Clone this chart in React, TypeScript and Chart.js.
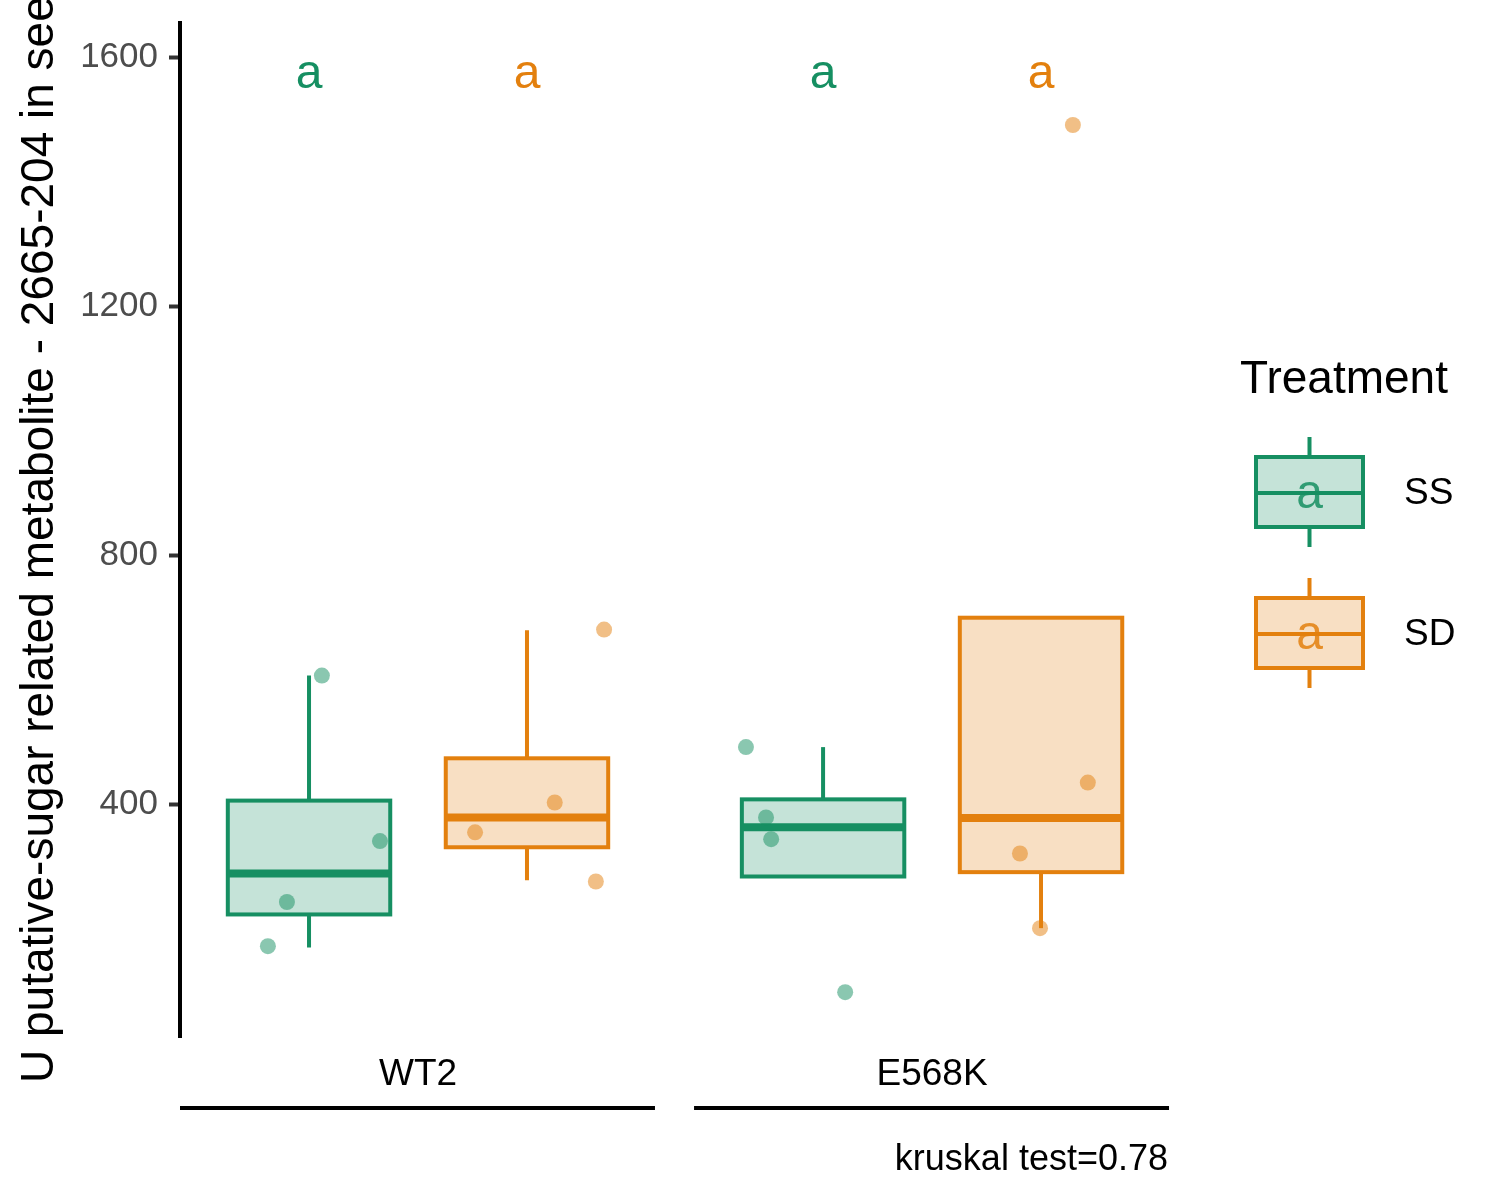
import React, { useEffect, useRef } from 'react';
import { Chart, registerables } from 'chart.js';

Chart.register(...registerables);

const groups = ['WT2', 'E568K'];
const treatments = ['SS', 'SD'];
const lineColors = ['#168F62', '#E3800E'];
const fillColors = ['rgba(22,143,98,0.25)', 'rgba(227,128,14,0.25)'];
const pointColors = ['rgba(22,143,98,0.5)', 'rgba(227,128,14,0.5)'];

// box statistics, one value per group (WT2, E568K)
const ssLow = [170, 284];
const ssQ1 = [223, 284];
const ssMedian = [289, 363];
const ssQ3 = [406, 408];
const ssHigh = [607, 492];

const sdLow = [278, 201];
const sdQ1 = [331, 291];
const sdMedian = [379, 378];
const sdQ3 = [474, 700];
const sdHigh = [680, 700];

// raw points and their horizontal jitter, per group
const ssValues = [[607, 341, 243, 172], [492, 379, 344, 98]];
const ssJitter = [[0.025, 0.138, -0.043, -0.08], [-0.15, -0.111, -0.101, 0.043]];
const sdValues = [[681, 403, 355, 276], [1492, 435, 321, 201]];
const sdJitter = [[0.15, 0.054, -0.101, 0.134], [0.062, 0.091, -0.041, -0.002]];

const letters = [['a', 'a'], ['a', 'a']];
const letterY = 1552;
const yTicks = [400, 800, 1200, 1600];
const pValueText = 'kruskal test=0.78';
const yTitle = 'U putative-sugar related metabolite - 2665-204 in seeds';

const dodge = [-0.212, 0.212];
const boxHalf = 0.158;
const FONT = '"Liberation Sans", Arial, Helvetica, sans-serif';

const stats = [
  { low: ssLow, q1: ssQ1, med: ssMedian, q3: ssQ3, high: ssHigh },
  { low: sdLow, q1: sdQ1, med: sdMedian, q3: sdQ3, high: sdHigh },
];
const values = [ssValues, sdValues];
const jitters = [ssJitter, sdJitter];

const boxPlugin = {
  id: 'boxes',
  beforeDatasetsDraw(chart: any) {
    const { ctx } = chart;
    const x = chart.scales.x;
    const y = chart.scales.y;
    ctx.save();
    treatments.forEach((_, ti) => {
      const s = stats[ti];
      groups.forEach((__, gi) => {
        const c = gi + 1 + dodge[ti];
        const cx = x.getPixelForValue(c);
        const l = x.getPixelForValue(c - boxHalf);
        const r = x.getPixelForValue(c + boxHalf);
        const yLow = y.getPixelForValue(s.low[gi]);
        const yQ1 = y.getPixelForValue(s.q1[gi]);
        const yMed = y.getPixelForValue(s.med[gi]);
        const yQ3 = y.getPixelForValue(s.q3[gi]);
        const yHigh = y.getPixelForValue(s.high[gi]);
        ctx.strokeStyle = lineColors[ti];
        ctx.lineWidth = 4;
        ctx.lineCap = 'butt';
        ctx.beginPath();
        ctx.moveTo(cx, yHigh);
        ctx.lineTo(cx, yQ3);
        ctx.moveTo(cx, yQ1);
        ctx.lineTo(cx, yLow);
        ctx.stroke();
        ctx.fillStyle = fillColors[ti];
        ctx.fillRect(l, yQ3, r - l, yQ1 - yQ3);
        ctx.strokeRect(l, yQ3, r - l, yQ1 - yQ3);
        ctx.lineWidth = 8;
        ctx.beginPath();
        ctx.moveTo(l, yMed);
        ctx.lineTo(r, yMed);
        ctx.stroke();
      });
    });
    ctx.restore();
  },
  afterDraw(chart: any) {
    const { ctx, chartArea } = chart;
    const x = chart.scales.x;
    const y = chart.scales.y;
    ctx.save();

    // significance letters
    ctx.font = `48px ${FONT}`;
    ctx.textAlign = 'center';
    ctx.textBaseline = 'alphabetic';
    treatments.forEach((_, ti) => {
      groups.forEach((__, gi) => {
        ctx.fillStyle = lineColors[ti];
        ctx.fillText(letters[ti][gi], x.getPixelForValue(gi + 1 + dodge[ti]), y.getPixelForValue(letterY));
      });
    });

    // group labels and brackets
    ctx.fillStyle = '#000';
    ctx.font = `37px ${FONT}`;
    ctx.textBaseline = 'middle';
    groups.forEach((g, gi) => {
      ctx.fillText(g, x.getPixelForValue(gi + 1), 1075);
      ctx.strokeStyle = '#000';
      ctx.lineWidth = 4;
      ctx.beginPath();
      ctx.moveTo(x.getPixelForValue(gi + 1 - 0.463), 1108);
      ctx.lineTo(x.getPixelForValue(gi + 1 + 0.461), 1108);
      ctx.stroke();
    });

    ctx.textAlign = 'right';
    ctx.textBaseline = 'alphabetic';
    ctx.font = `36px ${FONT}`;
    ctx.fillText(pValueText, chartArea.right, 1170);

    // y title
    ctx.save();
    ctx.translate(53, 1083);
    ctx.rotate(-Math.PI / 2);
    ctx.textAlign = 'left';
    ctx.font = `46px ${FONT}`;
    ctx.fillText(yTitle, 0, 0);
    ctx.restore();

    // legend
    ctx.textAlign = 'left';
    ctx.font = `46px ${FONT}`;
    ctx.fillText('Treatment', 1240, 393);
    const keyCenters = [492, 633];
    treatments.forEach((t, ti) => {
      const cy = keyCenters[ti];
      const kl = 1256;
      const kr = 1363;
      const kt = cy - 35;
      const kb = cy + 35;
      const kx = (kl + kr) / 2;
      ctx.strokeStyle = lineColors[ti];
      ctx.lineWidth = 4;
      ctx.beginPath();
      ctx.moveTo(kx, kt - 20);
      ctx.lineTo(kx, kt);
      ctx.moveTo(kx, kb);
      ctx.lineTo(kx, kb + 20);
      ctx.stroke();
      ctx.fillStyle = fillColors[ti];
      ctx.fillRect(kl, kt, kr - kl, kb - kt);
      ctx.strokeRect(kl, kt, kr - kl, kb - kt);
      ctx.beginPath();
      ctx.moveTo(kl, cy + 1);
      ctx.lineTo(kr, cy + 1);
      ctx.stroke();
      ctx.fillStyle = lineColors[ti];
      ctx.globalAlpha = 0.85;
      ctx.textAlign = 'center';
      ctx.font = `48px ${FONT}`;
      ctx.fillText('a', kx, cy + 16);
      ctx.globalAlpha = 1;
      ctx.fillStyle = '#000';
      ctx.textAlign = 'left';
      ctx.font = `37px ${FONT}`;
      ctx.textBaseline = 'middle';
      ctx.fillText(t, 1404, cy + 2);
      ctx.textBaseline = 'alphabetic';
    });

    ctx.restore();
  },
};

export default function App() {
  const chartRef = useRef<HTMLCanvasElement>(null);

  useEffect(() => {
    if (!chartRef.current) return;
    const datasets = treatments.map((t, ti) => ({
      label: t,
      data: groups.flatMap((_, gi) =>
        values[ti][gi].map((v, k) => ({ x: gi + 1 + dodge[ti] + jitters[ti][gi][k], y: v }))
      ),
      backgroundColor: pointColors[ti],
      borderWidth: 0,
      pointRadius: 8,
      pointHoverRadius: 8,
    }));

    const chart = new Chart(chartRef.current, {
      type: 'scatter',
      data: { datasets },
      options: {
        responsive: false,
        animation: false,
        devicePixelRatio: 1,
        layout: { padding: { left: 0, top: 23, right: 332, bottom: 163 } },
        plugins: { legend: { display: false }, tooltip: { enabled: false } },
        scales: {
          x: { type: 'linear', min: 0.537, max: 2.459, display: false },
          y: {
            type: 'linear',
            min: 26,
            max: 1656,
            afterFit: (s: any) => {
              s.width = 180;
              s.paddingTop = 0;
              s.paddingBottom = 0;
            },
            afterBuildTicks: (s: any) => {
              s.ticks = yTicks.map((v) => ({ value: v }));
            },
            border: { display: true, color: '#000', width: 4 },
            grid: {
              display: true,
              drawOnChartArea: false,
              drawTicks: true,
              tickLength: 11,
              tickWidth: 4,
              tickColor: '#333',
            },
            ticks: {
              color: '#4D4D4D',
              font: { family: FONT, size: 35 },
              padding: 11,
              callback: (v: any) => String(v),
            },
          },
        },
      },
      plugins: [boxPlugin],
    });

    return () => {
      chart.destroy();
    };
  }, []);

  return (
    <div style={{ position: 'absolute', left: 0, top: 0, width: 1500, height: 1200, background: '#fff' }}>
      <canvas ref={chartRef} width={1500} height={1200} />
    </div>
  );
}
